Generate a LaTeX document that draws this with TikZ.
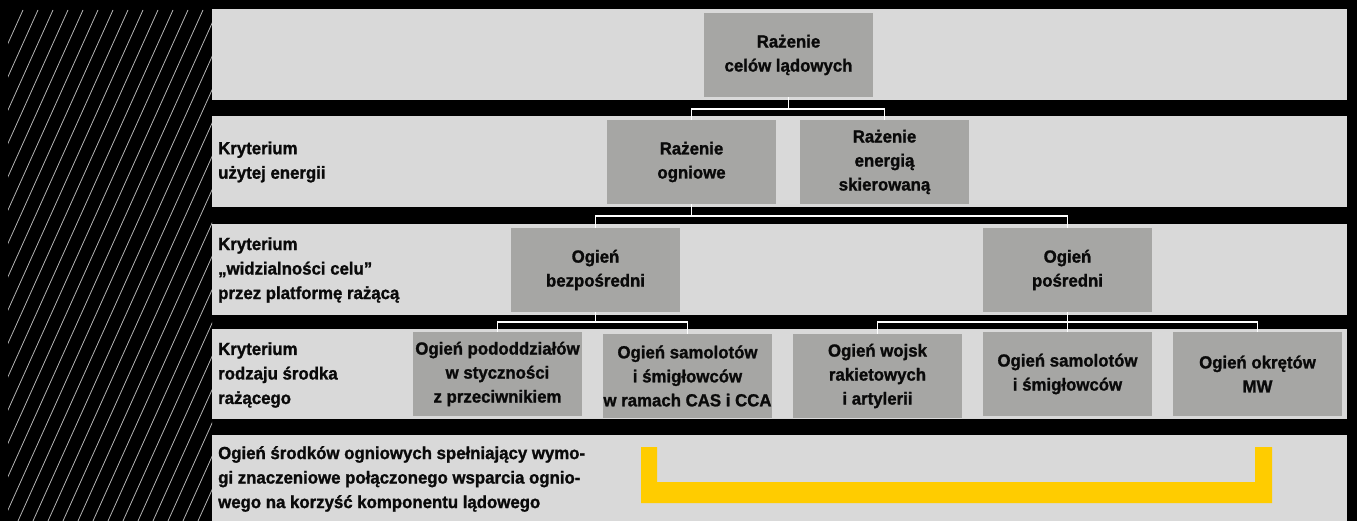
\documentclass[tikz,border=0pt]{standalone}
\usepackage{fontspec}
\setmainfont{Liberation Sans}[BoldFeatures={FakeBold=1.3, FakeStretch=0.96}]
\begin{document}
\begin{tikzpicture}[x=1pt,y=-1pt,
  panel/.style={fill=panelgray},
  box/.style={fill=boxgray, minimum width=169pt, minimum height=84pt, inner sep=0pt,
    align=center, text=ink, font=\fontsize{17.5}{24}\selectfont\bfseries},
  crit/.style={anchor=west, align=left, inner sep=0pt, text=ink,
    font=\fontsize{17.5}{24.5}\selectfont\bfseries},
  link/.style={draw=white, line width=1.6pt},
  hatch/.style={draw=hatchgray, line width=0.8pt}]
\definecolor{panelgray}{HTML}{D9D9D9}
\definecolor{boxgray}{HTML}{A6A6A4}
\definecolor{ink}{HTML}{0A0A0A}
\definecolor{hatchgray}{HTML}{B4B4B4}
\definecolor{bracket}{HTML}{FFCC00}

% canvas
\fill[black] (0,0) rectangle (1357,521);
\useasboundingbox (0,0) rectangle (1357,521);

% diagonal hatching on the left strip
\begin{scope}
  \clip (8,10) rectangle (212,521);
  \foreach \k in {0,...,31} {
    \draw[hatch] ({23+15*\k},10) -- ({23+15*\k-230},521);
  }
\end{scope}

% row panels
\fill[panel] (212,9)   rectangle (1347,100);
\fill[panel] (212,116) rectangle (1347,207);
\fill[panel] (212,224) rectangle (1347,315);
\fill[panel] (212,329) rectangle (1347,419);
\fill[panel] (212,435) rectangle (1347,521);

% criteria labels
\node[crit] (c2) at (218,162) {Kryterium\\użytej energii};
\node[crit] (c3) at (218,270) {Kryterium\\„widzialności celu”\\przez platformę rażącą};
\node[crit] (c4) at (218,375) {Kryterium\\rodzaju środka\\rażącego};
\node[crit] (c5) at (218,479) {Ogień środków ogniowych spełniający wymo-\\gi znaczeniowe połączonego wsparcia ognio-\\wego na korzyść komponentu lądowego};

% boxes
\node[box] (top) at (788.5,55)  {Rażenie\\celów lądowych};
\node[box] (ogn) at (691.5,162) {Rażenie\\ogniowe};
\node[box] (ene) at (884.5,162) {Rażenie\\energią\\skierowaną};
\node[box] (bez) at (595.5,270) {Ogień\\bezpośredni};
\node[box] (pos) at (1067.5,270) {Ogień\\pośredni};
\node[box] (pod) at (497.5,374) {Ogień pododdziałów\\w styczności\\z przeciwnikiem};
\node[box] (cas) at (687.5,376) {Ogień samolotów\\i śmigłowców\\w ramach CAS i CCA};
\node[box] (woj) at (877.5,376) {Ogień wojsk\\rakietowych\\i artylerii};
\node[box] (sam) at (1067.5,374) {Ogień samolotów\\i śmigłowców};
\node[box] (okr) at (1257.5,374) {Ogień okrętów\\MW};

% junction points
\coordinate (j1) at (788.5,109);
\coordinate (j2) at (691.5,216);
\coordinate (j3) at (595.5,322);
\coordinate (j4) at (1067.5,322);

% connectors
\draw[link] (top.south) -- (j1);
\draw[link] (ogn.north) |- (j1) -| (ene.north);
\draw[link] (ogn.south) -- (j2);
\draw[link] (bez.north) |- (j2) -| (pos.north);
\draw[link] (bez.south) -- (j3);
\draw[link] (pod.north) |- (j3) -| (cas.north);
\draw[link] (pos.south) -- (j4);
\draw[link] (woj.north) |- (j4) -| (okr.north);
\draw[link] (j4) -- (sam.north);

% bracket spanning the supporting fires
\fill[bracket] (641,447) -- (657,447) -- (657,482) -- (1255,482) -- (1255,447)
  -- (1272,447) -- (1272,503) -- (641,503) -- cycle;
\end{tikzpicture}
\end{document}
